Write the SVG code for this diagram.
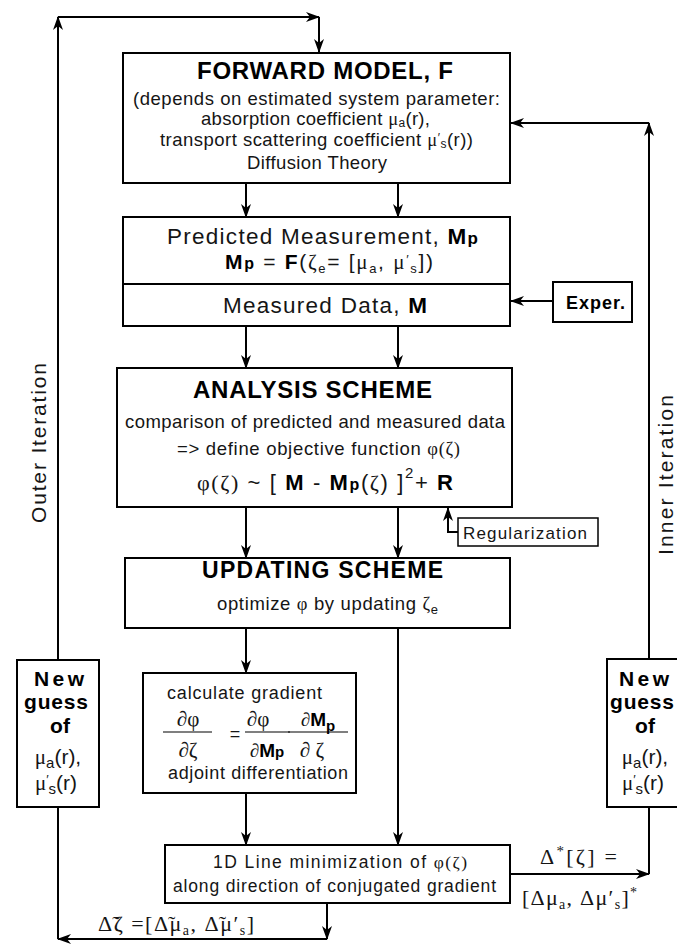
<svg xmlns="http://www.w3.org/2000/svg" width="677" height="947" viewBox="0 0 677 947">
<defs>
<marker id="ah" viewBox="0 0 14 10" refX="13" refY="5" markerWidth="14" markerHeight="10" orient="auto" markerUnits="userSpaceOnUse"><path d="M0,0 L14,5 L0,10 L4,5 z" fill="#000"/></marker>
<style>
svg{font-family:"Liberation Sans",Arial,sans-serif;font-size:18.5px}
.box{fill:#fff;stroke:#000;stroke-width:2}
.c{fill:none;stroke:#000;stroke-width:2}
.a{marker-end:url(#ah)}
.t{fill:#151515}
.b{font-weight:bold;fill:#000}
.g{font-family:"Liberation Serif","DejaVu Serif",serif}
</style>
</defs>
<rect width="677" height="947" fill="#fff"/>
<g id="connectors">
<path class="c a" d="M58,660 V17"/>
<path class="c a" d="M58,17 H319"/>
<path class="c a" d="M319,17 V52"/>
<path class="c a" d="M246,183 V217"/>
<path class="c a" d="M398,183 V217"/>
<path class="c a" d="M246,326 V368"/>
<path class="c a" d="M398,326 V368"/>
<path class="c a" d="M246,507 V558"/>
<path class="c a" d="M398,507 V558"/>
<path class="c a" d="M458,532 H448 V508"/>
<path class="c a" d="M553,301 H511"/>
<path class="c a" d="M246,628 V673"/>
<path class="c a" d="M398,628 V845"/>
<path class="c a" d="M246,793 V845"/>
<path class="c a" d="M510,874 H649"/>
<path class="c" d="M649,874 V807"/>
<path class="c a" d="M649,659 V123"/>
<path class="c a" d="M649,123 H511"/>
<path class="c a" d="M327,903 V939"/>
<path class="c a" d="M327,939 H58"/>
<path class="c" d="M58,939 V807"/>
</g>
<g id="forward" class="t">
<rect class="box" x="123" y="53" width="387" height="130"/>
<text class="b" x="197" y="79" font-size="24" textLength="256" lengthAdjust="spacing">FORWARD MODEL, F</text>
<text x="133" y="105" textLength="367" lengthAdjust="spacing">(depends on estimated system parameter:</text>
<text x="201" y="125" textLength="229" lengthAdjust="spacing">absorption coefficient <tspan class="g">μ</tspan><tspan font-size="12" dy="2">a</tspan><tspan dy="-2">(r),</tspan></text>
<text x="160" y="146" textLength="313" lengthAdjust="spacing">transport scattering coefficient  <tspan class="g">μ</tspan><tspan font-size="12" dy="-4">′</tspan><tspan font-size="12" dy="6">s</tspan><tspan dy="-2">(r))</tspan></text>
<text x="247" y="169" textLength="140" lengthAdjust="spacing">Diffusion Theory</text>
</g>
<g id="predicted" class="t">
<rect class="box" x="123" y="217" width="387" height="67"/>
<text x="167" y="244" font-size="22.5" textLength="311" lengthAdjust="spacing">Predicted Measurement, <tspan class="b">M<tspan font-size="17">p</tspan></tspan></text>
<text x="225" y="269" font-size="21" textLength="208" lengthAdjust="spacing"><tspan class="b">M<tspan font-size="16">p</tspan></tspan> = <tspan class="b">F</tspan>(<tspan class="g">ζ</tspan><tspan font-size="13" dy="4">e</tspan><tspan dy="-4">= [</tspan><tspan class="g">μ</tspan><tspan font-size="13" dy="4">a</tspan><tspan dy="-4">, </tspan><tspan class="g">μ</tspan><tspan font-size="13" dy="-5">′</tspan><tspan font-size="13" dy="9">s</tspan><tspan dy="-4">])</tspan></text>
</g>
<g id="measured" class="t">
<rect class="box" x="123" y="284" width="387" height="42"/>
<text x="223" y="313" font-size="22.5" textLength="204" lengthAdjust="spacing">Measured Data, <tspan class="b">M</tspan></text>
</g>
<g id="exper" class="t">
<rect class="box" x="553" y="282" width="79" height="40"/>
<text class="b" x="566" y="309" font-size="18" textLength="59" lengthAdjust="spacing">Exper.</text>
</g>
<g id="analysis" class="t">
<rect class="box" x="117" y="368" width="395" height="139"/>
<text class="b" x="193" y="398" font-size="24" textLength="239" lengthAdjust="spacing">ANALYSIS SCHEME</text>
<text x="125" y="428" textLength="380" lengthAdjust="spacing">comparison of predicted and measured data</text>
<text x="177" y="455" textLength="283" lengthAdjust="spacing">=&gt; define objective function <tspan class="g">φ(ζ)</tspan></text>
<text x="197" y="490" font-size="22" textLength="256" lengthAdjust="spacing"><tspan class="g">φ(ζ)</tspan> ~ [ <tspan class="b">M</tspan> - <tspan class="b">M<tspan font-size="16">p</tspan></tspan>(<tspan class="g">ζ</tspan>) ]<tspan font-size="15" dy="-12">2</tspan><tspan dy="12">+ </tspan><tspan class="b">R</tspan></text>
</g>
<g id="regularization" class="t">
<rect class="box" x="458" y="518" width="140" height="28" style="stroke-width:1.5"/>
<text x="463" y="539" font-size="17" textLength="124" lengthAdjust="spacing">Regularization</text>
</g>
<g id="updating" class="t">
<rect class="box" x="125" y="558" width="385" height="70"/>
<text class="b" x="202" y="578" font-size="23" textLength="241" lengthAdjust="spacing">UPDATING SCHEME</text>
<text x="217" y="610" textLength="221" lengthAdjust="spacing">optimize <tspan class="g">φ</tspan> by updating <tspan class="g">ζ</tspan><tspan font-size="13" dy="4">e</tspan></text>
</g>
<g id="gradient" class="t">
<rect class="box" x="143" y="673" width="213" height="120"/>
<text x="167" y="699" font-size="18" textLength="155" lengthAdjust="spacing">calculate gradient</text>
<line x1="163" y1="732" x2="212" y2="732" stroke="#000" stroke-width="1.2"/>
<text x="188" y="726" text-anchor="middle" class="g" font-size="21">∂φ</text>
<text x="188" y="757" text-anchor="middle" class="g" font-size="21">∂ζ</text>
<text x="235" y="740" text-anchor="middle" font-size="18">=</text>
<line x1="245" y1="732" x2="290" y2="732" stroke="#000" stroke-width="1.2"/>
<text x="258" y="726" text-anchor="middle" class="g" font-size="21">∂φ</text>
<text x="267" y="757" text-anchor="middle" font-size="19"><tspan class="g">∂</tspan><tspan class="b">M<tspan font-size="15">p</tspan></tspan></text>
<line x1="288" y1="732" x2="348" y2="732" stroke="#000" stroke-width="1.2"/>
<text x="318" y="726" text-anchor="middle" font-size="19"><tspan class="g">∂</tspan><tspan class="b">M<tspan font-size="15" dy="5">p</tspan></tspan></text>
<text x="312" y="757" text-anchor="middle" class="g" font-size="21">∂ ζ</text>
<text x="168" y="779" font-size="18" textLength="180" lengthAdjust="spacing">adjoint differentiation</text>
</g>
<g id="lineMin" class="t">
<rect class="box" x="165" y="845" width="345" height="58"/>
<text x="213" y="868" font-size="17.5" textLength="254" lengthAdjust="spacing">1D Line minimization of <tspan class="g">φ(ζ)</tspan></text>
<text x="173" y="892" font-size="17.5" textLength="323" lengthAdjust="spacing">along direction of conjugated gradient</text>
</g>
<g id="newGuessLeft" class="t">
<rect class="box" x="17" y="660" width="82" height="147"/>
<text class="b" x="34" y="686" font-size="21" textLength="50" lengthAdjust="spacing">New</text>
<text class="b" x="24" y="709" font-size="21" textLength="64" lengthAdjust="spacing">guess</text>
<text class="b" x="60" y="733" text-anchor="middle" font-size="21">of</text>
<text x="58" y="764" text-anchor="middle" font-size="21"><tspan class="g">μ</tspan><tspan font-size="15" dy="4">a</tspan><tspan dy="-4">(r),</tspan></text>
<text x="56" y="790" text-anchor="middle" font-size="21"><tspan class="g">μ</tspan><tspan font-size="13" dy="-6">′</tspan><tspan font-size="15" dy="10">s</tspan><tspan dy="-4">(r)</tspan></text>
</g>
<g id="newGuessRight" class="t">
<rect class="box" x="607" y="659" width="82" height="148"/>
<text class="b" x="619" y="686" font-size="21" textLength="50" lengthAdjust="spacing">New</text>
<text class="b" x="610" y="709" font-size="21" textLength="64" lengthAdjust="spacing">guess</text>
<text class="b" x="645" y="733" text-anchor="middle" font-size="21">of</text>
<text x="645" y="764" text-anchor="middle" font-size="21"><tspan class="g">μ</tspan><tspan font-size="15" dy="4">a</tspan><tspan dy="-4">(r),</tspan></text>
<text x="643" y="790" text-anchor="middle" font-size="21"><tspan class="g">μ</tspan><tspan font-size="13" dy="-6">′</tspan><tspan font-size="15" dy="10">s</tspan><tspan dy="-4">(r)</tspan></text>
</g>
<g id="labels" class="t">
<text transform="translate(46,443) rotate(-90)" text-anchor="middle" font-size="21" textLength="160" lengthAdjust="spacing">Outer Iteration</text>
<text transform="translate(673,475) rotate(-90)" text-anchor="middle" font-size="21" textLength="160" lengthAdjust="spacing">Inner Iteration</text>
<text class="g" x="540" y="864" font-size="22" textLength="77" lengthAdjust="spacing">Δ<tspan font-size="15" dy="-8">*</tspan><tspan dy="8">[ζ] =</tspan></text>
<text class="g" x="522" y="905" font-size="22" textLength="115" lengthAdjust="spacing">[Δμ<tspan font-size="14" dy="4">a</tspan><tspan dy="-4">, Δμ′</tspan><tspan font-size="14" dy="4">s</tspan><tspan dy="-4">]</tspan><tspan font-size="14" dy="-8">*</tspan></text>
<text class="g" x="98" y="931" font-size="22" textLength="156" lengthAdjust="spacing">Δ̃ζ =[Δ̃μ<tspan font-size="14" dy="4">a</tspan><tspan dy="-4">, Δ̃μ′</tspan><tspan font-size="14" dy="4">s</tspan><tspan dy="-4">]</tspan></text>
</g>
</svg>
